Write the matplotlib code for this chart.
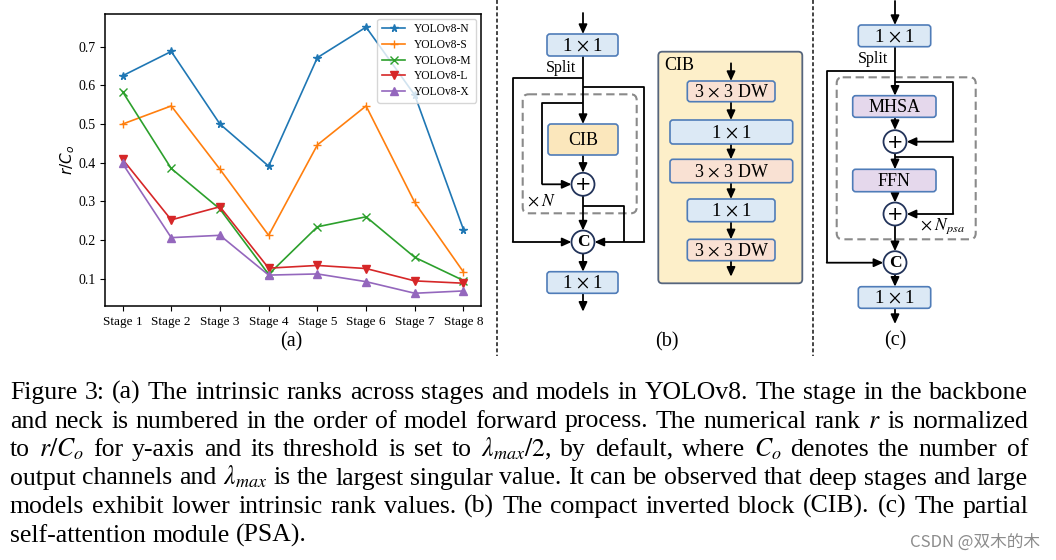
import matplotlib
matplotlib.use('Agg')
import matplotlib.pyplot as plt
from matplotlib.patches import FancyBboxPatch, Circle

plt.rcParams['font.family'] = ['Liberation Serif', 'DejaVu Serif']
plt.rcParams['mathtext.fontset'] = 'stix'

# DATA
stages = ['Stage 1', 'Stage 2', 'Stage 3', 'Stage 4', 'Stage 5', 'Stage 6', 'Stage 7', 'Stage 8']
yolo_n = [0.625, 0.688, 0.500, 0.391, 0.672, 0.751, 0.575, 0.227]
yolo_s = [0.500, 0.547, 0.383, 0.212, 0.446, 0.547, 0.297, 0.117]
yolo_m = [0.584, 0.385, 0.280, 0.111, 0.234, 0.260, 0.155, 0.095]
yolo_l = [0.409, 0.252, 0.286, 0.127, 0.134, 0.126, 0.094, 0.088]
yolo_x = [0.398, 0.206, 0.212, 0.109, 0.112, 0.092, 0.062, 0.068]
series_names = ['YOLOv8-N', 'YOLOv8-S', 'YOLOv8-M', 'YOLOv8-L', 'YOLOv8-X']
yticks = [0.1, 0.2, 0.3, 0.4, 0.5, 0.6, 0.7]

caption_lines = [
    'Figure 3: (a) The intrinsic ranks across stages and models in YOLOv8. The stage in the backbone',
    'and neck is numbered in the order of model forward process. The numerical rank $r$ is normalized',
    r'to $r/C_o$ for y-axis and its threshold is set to $\lambda_{max}/2$, by default, where $C_o$ denotes the number of',
    r'output channels and $\lambda_{max}$ is the largest singular value. It can be observed that deep stages and large',
    'models exhibit lower intrinsic rank values. (b) The compact inverted block (CIB). (c) The partial',
    'self-attention module (PSA).',
]

W, H = 1056, 560
fig = plt.figure(figsize=(W / 100, H / 100), dpi=100)
fig.patch.set_facecolor('white')

# full-figure pixel canvas for diagrams and caption
dax = fig.add_axes([0, 0, 1, 1])
dax.set_xlim(0, W)
dax.set_ylim(H, 0)
dax.set_axis_off()

# ---------------- (a) line chart ----------------
ax = fig.add_axes([105 / W, 1 - 306 / H, 376 / W, 292 / H])
xs = range(len(stages))
markers = ['*', '+', 'x', 'v', '^']
for vals, name, mk in zip([yolo_n, yolo_s, yolo_m, yolo_l, yolo_x], series_names, markers):
    ax.plot(xs, vals, marker=mk, markersize=5.5, lw=1.2, label=name)
ax.set_xticks(list(xs))
ax.set_xticklabels(stages, fontsize=9.5)
ax.set_yticks(yticks)
ax.set_yticklabels(['%.1f' % v for v in yticks], fontsize=10)
ax.set_xlim(-0.36, 7.36)
ax.set_ylim(0.029, 0.785)
ax.set_ylabel('$r/C_o$', fontsize=11, math_fontfamily='dejavusans', labelpad=1)
for sp in ax.spines.values():
    sp.set_linewidth(1.1)
ax.legend(loc='upper right', fontsize=8.3, borderaxespad=0.4, labelspacing=0.32)

# ---------------- diagram helpers ----------------
BLUE_FC, BLUE_EC = '#dce9f5', '#4f7cb8'
LINE = dict(color='black', lw=1.3)


def box(x0, x1, y0, y1, label, fc=BLUE_FC, ec=BLUE_EC, fs=13.5):
    p = FancyBboxPatch((x0, y0), x1 - x0, y1 - y0, boxstyle='round,pad=0,rounding_size=3',
                       fc=fc, ec=ec, lw=1.2, zorder=3)
    dax.add_patch(p)
    dax.text((x0 + x1) / 2, (y0 + y1) / 2 + 1, label, ha='center', va='center', fontsize=fs, zorder=4)


def arrow(x0, y0, x1, y1):
    dax.annotate('', xy=(x1, y1), xytext=(x0, y0),
                 arrowprops=dict(arrowstyle='-|>,head_length=0.55,head_width=0.25', lw=1.3,
                                 color='black', shrinkA=0, shrinkB=0, mutation_scale=10), zorder=2)


def line(px, py):
    dax.plot(px, py, solid_capstyle='butt', zorder=2, **LINE)


def circ(cx, cy, label, r=11.5, bold=False):
    dax.add_patch(Circle((cx, cy), r, fc='white', ec='#22335a', lw=1.3, zorder=3))
    dax.text(cx, cy + 0.5, label, ha='center', va='center', fontsize=14 if label == '+' else 12.5,
             fontweight='bold' if bold else 'normal', zorder=4,
             family='DejaVu Sans' if label == '+' else None)


def dashed_rect(x0, x1, y0, y1):
    p = FancyBboxPatch((x0, y0), x1 - x0, y1 - y0, boxstyle='round,pad=0,rounding_size=6',
                       fc='none', ec='#8a8a8a', lw=1.5, ls=(0, (4, 2.2)), zorder=1)
    dax.add_patch(p)


# vertical separators
for sx in [497, 813]:
    dax.plot([sx, sx], [0, 356], color='#444444', lw=1.4, dashes=[2.0, 1.2])

# ---------------- (b) ----------------
mx = 583
arrow(mx, 13, mx, 34)
box(547, 618, 34, 56, r'1 $\times$ 1')
dax.text(561, 68, 'Split', ha='center', va='center', fontsize=11.5)
arrow(mx, 56, mx, 124)
line([mx, 512.7, 512.7], [78.3, 78.3, 242])
arrow(512.7, 242, 571.5, 242)
line([mx, 644.3, 644.3], [86.7, 86.7, 242])
arrow(644.3, 242, 594.5, 242)
line([mx, 542.3, 542.3], [103.3, 103.3, 184.3])
arrow(542.3, 184.3, 571.5, 184.3)
box(548, 618, 124, 155, 'CIB', fc='#fbe7bc', ec=BLUE_EC, fs=13)
arrow(mx, 155, mx, 172.8)
circ(mx, 184.3, '+')
arrow(mx, 195.8, mx, 230.5)
line([mx, 624, 624], [205.7, 205.7, 242])
circ(mx, 242, 'C', bold=True)
arrow(mx, 253.5, mx, 271.7)
box(547, 618, 271.7, 293.3, r'1 $\times$ 1')
arrow(mx, 293.3, mx, 311.7)
dashed_rect(522.7, 636.7, 94.3, 213.3)
dax.text(527, 202, r'$\times\;N$', ha='left', va='center', fontsize=12.5)
dax.text(666.7, 341.7, '(b)', ha='center', va='center', fontsize=14.5)

# CIB panel
dax.add_patch(FancyBboxPatch((658.3, 51.7), 144, 231.6, boxstyle='round,pad=0,rounding_size=4',
                             fc='#fdefc9', ec='#56657d', lw=1.3, zorder=1))
dax.text(664, 66, 'CIB', ha='left', va='center', fontsize=13)
cx = 731
DW_FC = '#f9e1d3'
arrow(cx, 63.3, cx, 81)
box(687.3, 775, 81, 101.7, r'3 $\times$ 3 DW', fc=DW_FC, fs=13)
arrow(cx, 101.7, cx, 120)
box(670, 792.7, 120, 144, r'1 $\times$ 1')
arrow(cx, 144, cx, 159.3)
box(670, 792.7, 159.3, 182.7, r'3 $\times$ 3 DW', fc=DW_FC, fs=13)
arrow(cx, 182.7, cx, 199)
box(687.3, 775, 199, 221.7, r'1 $\times$ 1')
arrow(cx, 221.7, cx, 239.3)
box(687.3, 775, 239.3, 260.7, r'3 $\times$ 3 DW', fc=DW_FC, fs=13)
arrow(cx, 260.7, cx, 276.7)

# ---------------- (c) ----------------
px = 895
PSA_FC = '#e5d8ec'
arrow(px, 1, px, 25)
box(858.3, 930.7, 25, 46.7, r'1 $\times$ 1')
dax.text(872.7, 59.3, 'Split', ha='center', va='center', fontsize=11.5)
line([px, 826.7, 826.7], [70.7, 70.7, 262.7])
arrow(826.7, 262.7, 883.3, 262.7)
line([px, 953.3, 953.3], [81.7, 81.7, 141.7])
arrow(953.3, 141.7, 906.7, 141.7)
arrow(px, 46.7, px, 95.7)
box(852.7, 936, 95.7, 117.3, 'MHSA', fc=PSA_FC, fs=13)
arrow(px, 117.3, px, 130)
circ(px, 141.7, '+')
line([px, 953.3, 953.3], [156.7, 156.7, 214])
arrow(953.3, 214, 906.7, 214)
arrow(px, 153.4, px, 169.3)
box(852.7, 936, 169.3, 191.7, 'FFN', fc=PSA_FC, fs=13)
arrow(px, 191.7, px, 202.5)
circ(px, 214, '+')
arrow(px, 225.5, px, 251.2)
circ(px, 262.7, 'C', bold=True)
arrow(px, 274.2, px, 286.7)
box(858.3, 930.7, 286.7, 308.3, r'1 $\times$ 1')
arrow(px, 308.3, px, 324)
dashed_rect(836.7, 975.7, 77.3, 239.3)
dax.text(920, 226.7, r'$\times\;N_{psa}$', ha='left', va='center', fontsize=12.5)
dax.text(895, 340.7, '(c)', ha='center', va='center', fontsize=14.5)

# (a) label
dax.text(291.7, 341.7, '(a)', ha='center', va='center', fontsize=14.5)

# ---------------- caption (justified) ----------------
renderer = fig.canvas.get_renderer()
left, right = 10, 1028
baselines = [399, 427.5, 456, 484.5, 513, 541.5]

# pick a font size so the tightest line sets with normal word spacing
base_fs = 16
ratios = []
for txt in caption_lines[:-1]:
    words = txt.split(' ')
    tmp = [dax.text(0, 0, w, fontsize=base_fs) for w in words]
    wsum = sum(t.get_window_extent(renderer).width for t in tmp)
    for t in tmp:
        t.remove()
    natural = wsum + (len(words) - 1) * 0.25 * base_fs * 100 / 72
    ratios.append((right - left) / natural)
CAP_FS = base_fs * min(ratios) * 0.995

for i, (txt, yb) in enumerate(zip(caption_lines, baselines)):
    words = txt.split(' ')
    arts = [dax.text(0, yb, w, fontsize=CAP_FS, ha='left', va='baseline') for w in words]
    widths = [a.get_window_extent(renderer).width for a in arts]
    if i == len(caption_lines) - 1:
        gap = 0.25 * CAP_FS * 100 / 72
    else:
        gap = (right - left - sum(widths)) / (len(words) - 1)
    x = left
    for a, w in zip(arts, widths):
        a.set_x(x)
        x += w + gap

# watermark
dax.text(1040, 547, 'CSDN @双木的木', ha='right', va='baseline', fontsize=12, color='#8c8c8c',
         family=['Noto Sans CJK SC', 'DejaVu Sans'])

fig.savefig('out.png', dpi=100)
